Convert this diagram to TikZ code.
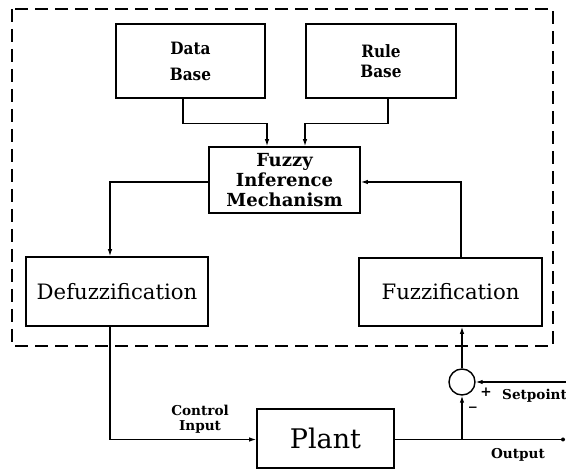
\documentclass[tikz,border=0pt]{standalone}
\usepackage{fontspec}
\setmainfont{DejaVu Serif}
\newfontfamily\narrowfont{DejaVu Serif}[FakeStretch=0.9]
\usetikzlibrary{arrows.meta}
\begin{document}
\begin{tikzpicture}[x=1pt,y=-1pt,
  blk/.style={draw,line width=1.6pt,inner sep=0pt,align=center},
  conn/.style={line width=1.2pt},
  arr/.style={conn,-{Latex[length=7pt,width=4.5pt]}},
  lbl/.style={font=\bfseries\fontsize{13.6}{15}\selectfont,align=center,inner sep=0pt},
  dashbox/.style={line width=1.3pt,dash pattern=on 13pt off 7pt}]
\useasboundingbox (0,0) rectangle (566,470);
\draw[dashbox] (12,9) rectangle (553,346);
\node[blk,minimum width=149pt,minimum height=74pt,font=\narrowfont\bfseries\fontsize{17}{26}\selectfont] (db) at (190.5,61) {Data\\Base};
\node[blk,minimum width=150pt,minimum height=74pt,font=\narrowfont\bfseries\fontsize{17}{20}\selectfont] (rb) at (381,61) {Rule\\Base};
\node[blk,minimum width=151pt,minimum height=66pt,font=\bfseries\fontsize{18}{20}\selectfont] (fim) at (284.5,180) {Fuzzy\\Inference\\Mechanism};
\node[blk,minimum width=182pt,minimum height=69pt,font=\fontsize{21.2}{24}\selectfont] (defz) at (117,291.5) {Defuzzification};
\node[blk,minimum width=183pt,minimum height=68pt,font=\fontsize{21.2}{24}\selectfont] (fz) at (450.5,292) {Fuzzification};
\node[blk,minimum width=137pt,minimum height=59pt,font=\fontsize{27}{30}\selectfont] (plant) at (325.5,438.5) {Plant};
\node[draw,circle,line width=1.4pt,minimum size=26pt,inner sep=0pt] (sum) at (462,382) {};
\coordinate (br) at (462,439.5);
\coordinate (outend) at (563,439.5);
\coordinate (sp) at (566,382);
% connectors
\draw[arr] ([xshift=-7.5pt]db.south) -- ++(0,25) -| ([xshift=-17.5pt]fim.north);
\draw[arr] ([xshift=7pt]rb.south) -- ++(0,25) -| ([xshift=20.5pt]fim.north);
\draw[arr] ([yshift=-2pt]fim.west) -| ([xshift=-7pt]defz.north);
\draw[arr] ([xshift=10.5pt]fz.north) |- ([yshift=-2pt]fim.east);
\draw[arr] ([xshift=-7pt]defz.south) |- ([yshift=-1pt]plant.west);
\draw[conn] ([yshift=-1pt]plant.east) -- (outend);
\fill (outend) circle (2pt);
\draw[arr] (br) -- (sum.south);
\draw[arr] (sum.north) -- (sum.north |- fz.south);
\draw[arr] (sp) -- (sum.east);
% labels
\node[lbl] (ci) at (200,419.5) {Control\\Input};
\node[lbl] (out) at (518,455) {Output};
\node[lbl,anchor=west] (spl) at (502,396) {Setpoint};
\node[lbl] (plus) at (486,392) {+};
\node[lbl,font=\bfseries\fontsize{12}{12}\selectfont] (minus) at (473,409) {−};
\end{tikzpicture}
\end{document}
